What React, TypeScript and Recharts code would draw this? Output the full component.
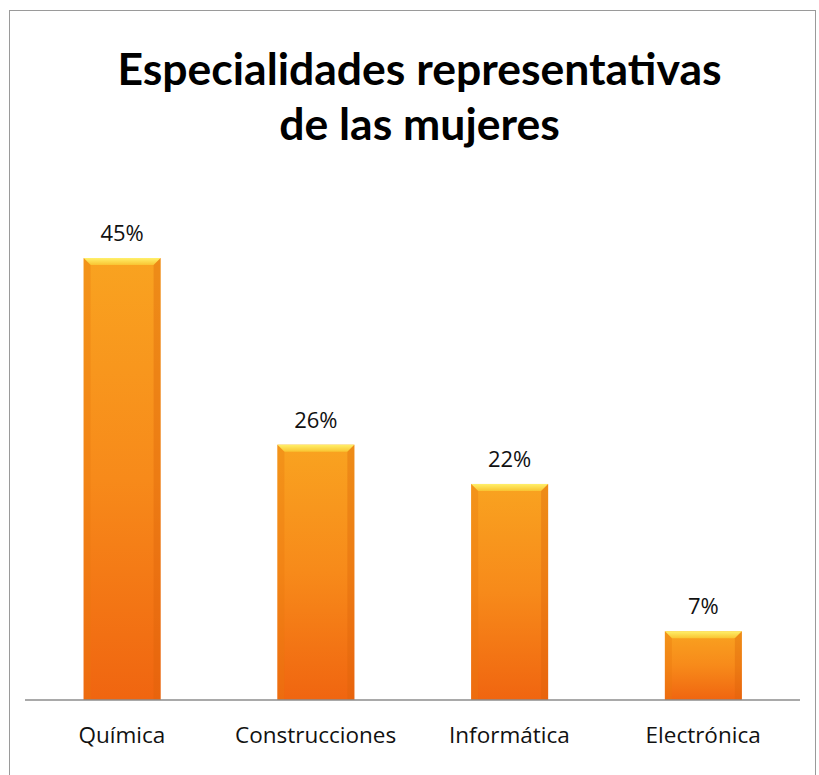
import { BarChart, Bar, XAxis, YAxis, LabelList } from "recharts";

const categories = ["Química", "Construcciones", "Informática", "Electrónica"];
const values = [45, 26, 22, 7];

const data = categories.map((name, i) => ({ name, value: values[i] }));

const TITLE_FONT = "Lato, 'Open Sans', sans-serif";
const FONT = "'Open Sans', Lato, sans-serif";

function BevelBar(props: any) {
  const { x, y, width, height } = props;
  if (!height || height <= 0) return null;
  const b = Math.min(7, height / 3);
  return (
    <g>
      <rect x={x} y={y} width={width} height={height} fill="url(#barFill)" />
      <polygon
        points={`${x},${y} ${x + width},${y} ${x + width - b},${y + b} ${x + b},${y + b}`}
        fill="url(#bevelTop)"
      />
      <polygon
        points={`${x},${y} ${x + b},${y + b} ${x + b},${y + height} ${x},${y + height}`}
        fill="#e8780f"
        opacity={0.35}
      />
      <polygon
        points={`${x + width},${y} ${x + width - b},${y + b} ${x + width - b},${y + height} ${x + width},${y + height}`}
        fill="#d9620a"
        opacity={0.35}
      />
    </g>
  );
}

export default function App() {
  return (
    <div
      style={{
        position: "absolute",
        left: 0,
        top: 0,
        width: 819,
        height: 775,
        background: "#fff",
        overflow: "hidden",
        fontFamily: FONT,
      }}
    >
      <div
        style={{
          position: "absolute",
          left: 9,
          top: 10,
          width: 805,
          height: 790,
          border: "1.5px solid #9a9a9a",
        }}
      />
      <div
        style={{
          position: "absolute",
          left: 0,
          top: 40,
          width: 839,
          textAlign: "center",
          fontWeight: 700,
          fontSize: 44.5,
          lineHeight: "55px",
          color: "#000",
          fontFamily: TITLE_FONT,
        }}
      >
        Especialidades representativas
        <br />
        de las mujeres
      </div>
      <div style={{ position: "absolute", left: 0, top: 0 }}>
        <BarChart
          width={819}
          height={775}
          data={data}
          margin={{ top: 209, right: 19, left: 25, bottom: 45 }}
          barCategoryGap="30%"
        >
          <defs>
            <linearGradient id="barFill" x1="0" y1="0" x2="0" y2="1">
              <stop offset="0%" stopColor="#f9a320" />
              <stop offset="50%" stopColor="#f78a1a" />
              <stop offset="100%" stopColor="#f06510" />
            </linearGradient>
            <linearGradient id="bevelTop" x1="0" y1="0" x2="0" y2="1">
              <stop offset="0%" stopColor="#fff06a" />
              <stop offset="100%" stopColor="#f9c431" />
            </linearGradient>
          </defs>
          <XAxis
            dataKey="name"
            axisLine={{ stroke: "#8c8c8c", strokeWidth: 1.5 }}
            tickLine={false}
            tickMargin={21}
            tick={{ fontSize: 22.5, fill: "#111", fontFamily: FONT }}
            interval={0}
          />
          <YAxis hide domain={[0, 50]} />
          <Bar
            dataKey="value"
            shape={<BevelBar />}
            isAnimationActive={false}
            maxBarSize={77}
          >
            <LabelList
              dataKey="value"
              position="top"
              offset={17}
              formatter={(v: any) => `${v}%`}
              style={{ fontSize: 22, fill: "#111", fontFamily: FONT }}
            />
          </Bar>
        </BarChart>
      </div>
    </div>
  );
}
